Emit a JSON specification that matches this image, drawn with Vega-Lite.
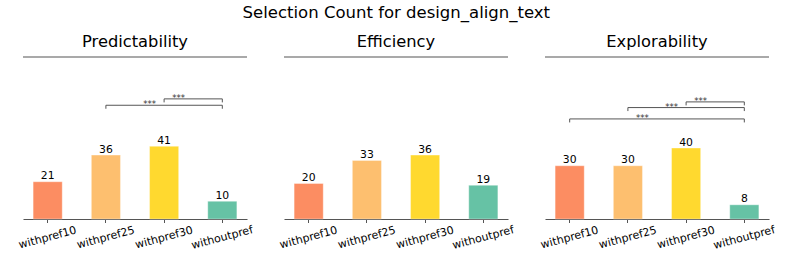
{
  "$schema": "https://vega.github.io/schema/vega-lite/v6.json",
  "title": {"text": "Selection Count for design_align_text", "fontSize": 16.5, "font": "DejaVu Sans", "fontWeight": "normal", "anchor": "middle", "color": "#000000", "offset": 13},
  "padding": {"left": 17, "right": 24, "top": 4, "bottom": 0},
  "bounds": "flush",
  "spacing": 37,
  "config": {
    "view": {"stroke": null},
    "font": "DejaVu Sans",
    "title": {"font": "DejaVu Sans", "fontWeight": "normal", "color": "#000000"}
  },
  "datasets": {
    "bars": [
      {"metric": "Predictability", "condition": "withpref10", "count": 21},
      {"metric": "Predictability", "condition": "withpref25", "count": 36},
      {"metric": "Predictability", "condition": "withpref30", "count": 41},
      {"metric": "Predictability", "condition": "withoutpref", "count": 10},
      {"metric": "Efficiency", "condition": "withpref10", "count": 20},
      {"metric": "Efficiency", "condition": "withpref25", "count": 33},
      {"metric": "Efficiency", "condition": "withpref30", "count": 36},
      {"metric": "Efficiency", "condition": "withoutpref", "count": 19},
      {"metric": "Explorability", "condition": "withpref10", "count": 30},
      {"metric": "Explorability", "condition": "withpref25", "count": 30},
      {"metric": "Explorability", "condition": "withpref30", "count": 40},
      {"metric": "Explorability", "condition": "withoutpref", "count": 8}
    ],
    "brackets": [
      {"metric": "Predictability", "from": "withpref25", "to": "withoutpref", "level": 64.1, "label": "***"},
      {"metric": "Predictability", "from": "withpref30", "to": "withoutpref", "level": 67.7, "label": "***"},
      {"metric": "Explorability", "from": "withpref10", "to": "withoutpref", "level": 56.4, "label": "***"},
      {"metric": "Explorability", "from": "withpref25", "to": "withoutpref", "level": 62.8, "label": "***"},
      {"metric": "Explorability", "from": "withpref30", "to": "withoutpref", "level": 66.0, "label": "***"}
    ]
  },
  "hconcat": [
    {
      "width": 224, "height": 162,
      "title": {"text": "Predictability", "fontSize": 16.3, "offset": -7, "baseline": "alphabetic"},
      "resolve": {"scale": {"xOffset": "independent"}},
      "layer": [
        {
          "data": {"name": "bars"},
          "transform": [{"filter": "datum.metric === 'Predictability'"}],
          "mark": {"type": "bar", "stroke": "#ffffff", "strokeOpacity": 0.35, "strokeWidth": 1},
          "encoding": {
            "x": {"field": "condition", "type": "nominal", "title": null,
                  "scale": {"type": "band", "domain": ["withpref10", "withpref25", "withpref30", "withoutpref"], "paddingInner": 0.5, "paddingOuter": 0.174},
                  "axis": {"labelAngle": -15, "labelAlign": "center", "labelBaseline": "middle", "labelPadding": 15, "labelFontSize": 11, "labelFont": "DejaVu Sans", "labelColor": "#000000", "domainColor": "#555555", "domainWidth": 1.2, "tickColor": "#555555", "tickSize": 3.5, "tickWidth": 1, "grid": false}},
            "y": {"field": "count", "type": "quantitative", "scale": {"domain": [0, 91.3], "nice": false}, "axis": null},
            "color": {"field": "condition", "type": "nominal", "legend": null,
                      "scale": {"domain": ["withpref10", "withpref25", "withpref30", "withoutpref"], "range": ["#fc8d62", "#fdbf6f", "#ffd92f", "#66c2a5"]}}
          }
        },
        {
          "data": {"name": "bars"},
          "transform": [{"filter": "datum.metric === 'Predictability'"}],
          "mark": {"type": "text", "baseline": "alphabetic", "dy": -2.5, "fontSize": 10.8, "color": "#000000"},
          "encoding": {
            "x": {"field": "condition", "type": "nominal", "title": null},
            "y": {"field": "count", "type": "quantitative"},
            "text": {"field": "count", "type": "quantitative"}
          }
        },
        {
          "data": {"values": [{}]},
          "mark": {"type": "rule", "color": "#555555", "strokeWidth": 1.2},
          "encoding": {"y": {"datum": 91.3}}
        },
        {
          "data": {"name": "brackets"},
          "transform": [{"filter": "datum.metric === 'Predictability'"}],
          "mark": {"type": "rule", "color": "#555555", "strokeWidth": 1},
          "encoding": {
            "x": {"field": "from", "type": "nominal", "title": null},
            "x2": {"field": "to"},
            "y": {"field": "level", "type": "quantitative"}
          }
        },
        {
          "data": {"name": "brackets"},
          "transform": [{"filter": "datum.metric === 'Predictability'"}, {"fold": ["from", "to"], "as": ["side", "cat"]}],
          "mark": {"type": "rule", "color": "#555555", "strokeWidth": 1, "y2Offset": 3.5},
          "encoding": {
            "x": {"field": "cat", "type": "nominal", "title": null},
            "y": {"field": "level", "type": "quantitative"},
            "y2": {"field": "level"}
          }
        },
        {
          "data": {"name": "brackets"},
          "transform": [{"filter": "datum.metric === 'Predictability'"}],
          "mark": {"type": "text", "baseline": "alphabetic", "dy": 2, "fontSize": 8.5, "color": "#333333"},
          "encoding": {
            "x": {"field": "to", "type": "nominal", "title": null, "bandPosition": 0.5},
            "xOffset": {"field": "from", "type": "nominal", "scale": {"type": "point", "domain": ["withpref10", "withpref25", "withpref30"], "range": [-87.3, -29.1], "padding": 0}},
            "y": {"field": "level", "type": "quantitative"},
            "text": {"field": "label"}
          }
        }
      ]
    },
    {
      "width": 224, "height": 162,
      "title": {"text": "Efficiency", "fontSize": 16.3, "offset": -7, "baseline": "alphabetic"},
      "layer": [
        {
          "data": {"name": "bars"},
          "transform": [{"filter": "datum.metric === 'Efficiency'"}],
          "mark": {"type": "bar", "stroke": "#ffffff", "strokeOpacity": 0.35, "strokeWidth": 1},
          "encoding": {
            "x": {"field": "condition", "type": "nominal", "title": null,
                  "scale": {"type": "band", "domain": ["withpref10", "withpref25", "withpref30", "withoutpref"], "paddingInner": 0.5, "paddingOuter": 0.174},
                  "axis": {"labelAngle": -15, "labelAlign": "center", "labelBaseline": "middle", "labelPadding": 15, "labelFontSize": 11, "labelFont": "DejaVu Sans", "labelColor": "#000000", "domainColor": "#555555", "domainWidth": 1.2, "tickColor": "#555555", "tickSize": 3.5, "tickWidth": 1, "grid": false}},
            "y": {"field": "count", "type": "quantitative", "scale": {"domain": [0, 91.3], "nice": false}, "axis": null},
            "color": {"field": "condition", "type": "nominal", "legend": null,
                      "scale": {"domain": ["withpref10", "withpref25", "withpref30", "withoutpref"], "range": ["#fc8d62", "#fdbf6f", "#ffd92f", "#66c2a5"]}}
          }
        },
        {
          "data": {"name": "bars"},
          "transform": [{"filter": "datum.metric === 'Efficiency'"}],
          "mark": {"type": "text", "baseline": "alphabetic", "dy": -2.5, "fontSize": 10.8, "color": "#000000"},
          "encoding": {
            "x": {"field": "condition", "type": "nominal", "title": null},
            "y": {"field": "count", "type": "quantitative"},
            "text": {"field": "count", "type": "quantitative"}
          }
        },
        {
          "data": {"values": [{}]},
          "mark": {"type": "rule", "color": "#555555", "strokeWidth": 1.2},
          "encoding": {"y": {"datum": 91.3}}
        }
      ]
    },
    {
      "width": 224, "height": 162,
      "title": {"text": "Explorability", "fontSize": 16.3, "offset": -7, "baseline": "alphabetic"},
      "resolve": {"scale": {"xOffset": "independent"}},
      "layer": [
        {
          "data": {"name": "bars"},
          "transform": [{"filter": "datum.metric === 'Explorability'"}],
          "mark": {"type": "bar", "stroke": "#ffffff", "strokeOpacity": 0.35, "strokeWidth": 1},
          "encoding": {
            "x": {"field": "condition", "type": "nominal", "title": null,
                  "scale": {"type": "band", "domain": ["withpref10", "withpref25", "withpref30", "withoutpref"], "paddingInner": 0.5, "paddingOuter": 0.174},
                  "axis": {"labelAngle": -15, "labelAlign": "center", "labelBaseline": "middle", "labelPadding": 15, "labelFontSize": 11, "labelFont": "DejaVu Sans", "labelColor": "#000000", "domainColor": "#555555", "domainWidth": 1.2, "tickColor": "#555555", "tickSize": 3.5, "tickWidth": 1, "grid": false}},
            "y": {"field": "count", "type": "quantitative", "scale": {"domain": [0, 91.3], "nice": false}, "axis": null},
            "color": {"field": "condition", "type": "nominal", "legend": null,
                      "scale": {"domain": ["withpref10", "withpref25", "withpref30", "withoutpref"], "range": ["#fc8d62", "#fdbf6f", "#ffd92f", "#66c2a5"]}}
          }
        },
        {
          "data": {"name": "bars"},
          "transform": [{"filter": "datum.metric === 'Explorability'"}],
          "mark": {"type": "text", "baseline": "alphabetic", "dy": -2.5, "fontSize": 10.8, "color": "#000000"},
          "encoding": {
            "x": {"field": "condition", "type": "nominal", "title": null},
            "y": {"field": "count", "type": "quantitative"},
            "text": {"field": "count", "type": "quantitative"}
          }
        },
        {
          "data": {"values": [{}]},
          "mark": {"type": "rule", "color": "#555555", "strokeWidth": 1.2},
          "encoding": {"y": {"datum": 91.3}}
        },
        {
          "data": {"name": "brackets"},
          "transform": [{"filter": "datum.metric === 'Explorability'"}],
          "mark": {"type": "rule", "color": "#555555", "strokeWidth": 1},
          "encoding": {
            "x": {"field": "from", "type": "nominal", "title": null},
            "x2": {"field": "to"},
            "y": {"field": "level", "type": "quantitative"}
          }
        },
        {
          "data": {"name": "brackets"},
          "transform": [{"filter": "datum.metric === 'Explorability'"}, {"fold": ["from", "to"], "as": ["side", "cat"]}],
          "mark": {"type": "rule", "color": "#555555", "strokeWidth": 1, "y2Offset": 3.5},
          "encoding": {
            "x": {"field": "cat", "type": "nominal", "title": null},
            "y": {"field": "level", "type": "quantitative"},
            "y2": {"field": "level"}
          }
        },
        {
          "data": {"name": "brackets"},
          "transform": [{"filter": "datum.metric === 'Explorability'"}],
          "mark": {"type": "text", "baseline": "alphabetic", "dy": 2, "fontSize": 8.5, "color": "#333333"},
          "encoding": {
            "x": {"field": "to", "type": "nominal", "title": null, "bandPosition": 0.5},
            "xOffset": {"field": "from", "type": "nominal", "scale": {"type": "point", "domain": ["withpref10", "withpref25", "withpref30"], "range": [-87.3, -29.1], "padding": 0}},
            "y": {"field": "level", "type": "quantitative"},
            "text": {"field": "label"}
          }
        }
      ]
    }
  ]
}
